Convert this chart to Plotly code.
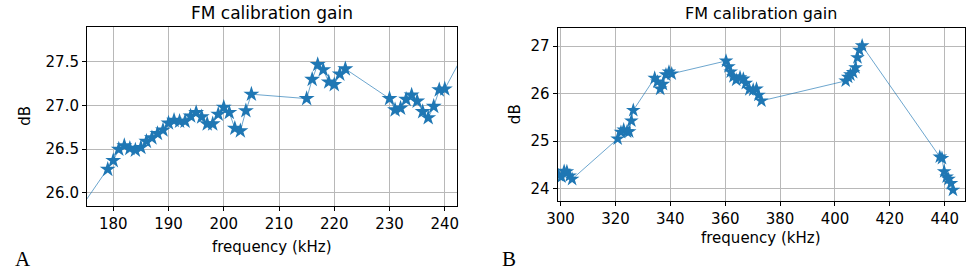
import plotly.graph_objects as go

# Panel A data (kHz, dB)
freq_a = [170, 179, 180, 181, 182, 183, 184, 185, 186, 187, 188, 189, 190, 191, 192, 193,
          194, 195, 196, 197, 198, 199, 200, 201, 202, 203, 204, 205, 215, 216, 217, 218,
          219, 220, 221, 222, 230, 231, 232, 233, 234, 235, 236, 237, 238, 239, 240, 245]
gain_a = [25.45, 26.27, 26.37, 26.50, 26.54, 26.51, 26.49, 26.52, 26.59, 26.63, 26.68, 26.72,
          26.80, 26.83, 26.82, 26.82, 26.88, 26.92, 26.87, 26.79, 26.79, 26.90, 26.98, 26.92,
          26.74, 26.71, 26.94, 27.13, 27.08, 27.30, 27.47, 27.41, 27.27, 27.24, 27.36, 27.42,
          27.08, 26.95, 26.97, 27.07, 27.12, 27.05, 26.93, 26.86, 26.99, 27.18, 27.19, 27.78]

# Panel B data (kHz, dB)
freq_b = [299.3, 300.3, 301.3, 302.3, 303.3, 304.2, 320.8, 322.0, 323.0, 324.2, 325.0, 325.8,
          326.5, 334.3, 335.3, 336.3, 337.3, 338.4, 339.5, 340.5, 360.3, 361.2, 362.0, 363.0,
          364.0, 365.4, 366.6, 367.5, 368.8, 370.2, 371.4, 372.1, 373.2, 403.9, 404.8, 405.6,
          406.6, 407.5, 408.2, 408.9, 409.9, 438.2, 439.0, 439.8, 440.7, 441.4, 442.3, 443.0]
gain_b = [24.28, 24.25, 24.37, 24.36, 24.27, 24.20, 25.05, 25.19, 25.24, 25.20, 25.20, 25.43,
          25.65, 26.33, 26.25, 26.10, 26.20, 26.40, 26.46, 26.42, 26.69, 26.57, 26.46, 26.36,
          26.29, 26.34, 26.31, 26.22, 26.09, 26.08, 26.10, 25.97, 25.85, 26.27, 26.35, 26.40,
          26.45, 26.55, 26.76, 26.92, 27.01, 24.67, 24.64, 24.36, 24.25, 24.20, 24.11, 23.97]

ticks_a_x = [180, 190, 200, 210, 220, 230, 240]
ticks_a_y = [26.0, 26.5, 27.0, 27.5]
ticks_b_x = [300, 320, 340, 360, 380, 400, 420, 440]
ticks_b_y = [24, 25, 26, 27]

title_text = "FM calibration gain"
x_label = "frequency (kHz)"
y_label = "dB"

W, H = 969, 272
FONT = "DejaVu Sans"
BLUE = "#1f77b4"
LINE = "rgba(31,119,180,0.65)"


def px(x):
    return x / W


def py(y):
    return 1 - y / H


fig = go.Figure()
fig.add_trace(go.Scatter(x=freq_a, y=gain_a, mode="lines+markers", xaxis="x", yaxis="y",
                         line=dict(color=LINE, width=1),
                         marker=dict(symbol="star", size=12, color=BLUE, line=dict(width=0)),
                         showlegend=False))
fig.add_trace(go.Scatter(x=freq_b, y=gain_b, mode="lines+markers", xaxis="x2", yaxis="y2",
                         line=dict(color=LINE, width=1),
                         marker=dict(symbol="star", size=11, color=BLUE, line=dict(width=0)),
                         showlegend=False))

axis_common = dict(showgrid=True, gridcolor="#b8b8b8", gridwidth=1, zeroline=False,
                   showline=True, linecolor="black", linewidth=1, mirror=True,
                   ticks="outside", ticklen=4, tickcolor="black",
                   tickfont=dict(family=FONT, size=15, color="black"))

fig.update_layout(
    width=W, height=H, margin=dict(l=0, r=0, t=0, b=0),
    paper_bgcolor="white", plot_bgcolor="white",
    xaxis=dict(domain=[px(77), px(452)], range=[175.24, 242.2], anchor="y",
               tickvals=ticks_a_x, **axis_common),
    yaxis=dict(domain=[py(206), py(27)], range=[25.85, 27.90], anchor="x",
               tickvals=ticks_a_y, tickformat=".1f", **axis_common),
    xaxis2=dict(domain=[px(554), px(967)], range=[298.9, 447.4], anchor="y2",
                tickvals=ticks_b_x, **axis_common),
    yaxis2=dict(domain=[py(201), py(27.7)], range=[23.74, 27.39], anchor="x2",
                tickvals=ticks_b_y, **axis_common),
)

ann = []
# titles
ann.append(dict(x=px(264.5), y=py(13), text=title_text, font=dict(family=FONT, size=17)))
ann.append(dict(x=px(760), y=py(13), text=title_text, font=dict(family=FONT, size=16)))
# x labels
ann.append(dict(x=px(264.5), y=py(247), text=x_label, font=dict(family=FONT, size=15)))
ann.append(dict(x=px(760), y=py(238), text=x_label, font=dict(family=FONT, size=15)))
# y labels
ann.append(dict(x=px(14), y=py(116), text=y_label, textangle=-90, font=dict(family=FONT, size=15)))
ann.append(dict(x=px(511), y=py(114), text=y_label, textangle=-90, font=dict(family=FONT, size=15)))
# panel letters
ann.append(dict(x=px(12), y=py(259), text="A", font=dict(family="Liberation Serif", size=21)))
ann.append(dict(x=px(505), y=py(259), text="B", font=dict(family="Liberation Serif", size=21)))

for a in ann:
    a.update(xref="paper", yref="paper", showarrow=False, xanchor="center", yanchor="middle")
    a["font"]["color"] = "black"
fig.update_layout(annotations=ann)

fig.write_html("out.html", config={"displayModeBar": False},
               post_script="document.body.style.margin='0';document.body.style.overflow='hidden';")
